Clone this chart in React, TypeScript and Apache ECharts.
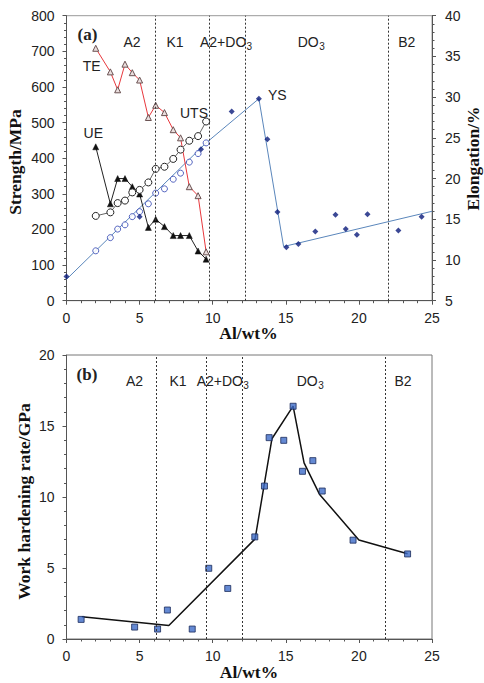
import React, { useEffect, useRef } from "react";
import * as echarts from "echarts";

// ---------- data (a) ----------
const alX = [2, 3, 3.5, 4, 4.5, 5, 5.6, 6.1, 6.7, 7.3, 7.8, 8.4, 9, 9.55];
const teVals = [36.0, 33.1, 30.9, 34.05, 33.0, 32.1, 27.5, 29.0, 28.1, 26.0, 25.0, 19.0, 17.9, 11.0];
const ueVals = [23.9, 16.9, 20.0, 20.0, 19.0, 18.1, 14.0, 15.0, 14.1, 13.0, 13.0, 13.0, 11.1, 10.1];
const utsVals = [238, 248, 274, 281, 304, 311, 332, 370, 376, 398, 424, 449, 462, 503];
const ysOpenVals = [140, 177, 201, 213, 236, 250, 272, 302, 314, 341, 358, 389, 413, 443];
const ysFilled: [number, number][] = [
  [0, 68], [5.0, 236], [9.2, 425], [11.3, 531], [13.16, 567], [13.74, 453],
  [14.43, 249], [15.04, 150], [15.86, 159], [17.02, 194], [18.4, 241],
  [19.1, 201], [19.86, 185], [20.59, 243], [22.7, 197], [24.29, 236],
];
const ysLine: [number, number][] = [[0, 60], [9.55, 443], [13.16, 567], [14.85, 152], [25, 251]];
const phaseBoundsA = [6.05, 9.75, 12.2, 22.0];

// ---------- data (b) ----------
const whPoints: [number, number][] = [
  [1.0, 1.38], [4.66, 0.84], [6.23, 0.7], [6.9, 2.04], [8.6, 0.7], [9.73, 4.98],
  [11.03, 3.56], [12.88, 7.19], [13.54, 10.77], [13.86, 14.18], [14.86, 13.99],
  [15.5, 16.39], [16.14, 11.81], [16.85, 12.56], [17.49, 10.42], [19.6, 6.96], [23.33, 5.99],
];
const whLine: [number, number][] = [
  [1.05, 1.57], [7.0, 0.95], [12.9, 7.05], [14.05, 14.1], [15.5, 16.4],
  [16.25, 12.4], [17.3, 10.2], [20.0, 6.97], [23.33, 6.0],
];
const phaseBoundsB = [6.15, 9.55, 12.05, 21.8];

const SANS = "Liberation Sans, Arial, sans-serif";
const SERIF = "Liberation Serif, Times New Roman, serif";

const zip = (xs: number[], ys: number[]) => xs.map((x, i) => [x, ys[i]]);

export default function App() {
  const ref = useRef<HTMLDivElement>(null);
  useEffect(() => {
    document.body.style.margin = "0";
    if (!ref.current) return;
    const chart = echarts.init(ref.current, undefined, { renderer: "svg" });

    const axisLbl = { color: "#222", fontSize: 14, fontFamily: SANS };
    const axLine = { show: true, lineStyle: { color: "#555", width: 1 } };
    const tick = { show: true, length: 4, lineStyle: { color: "#555" } };
    const minor = { show: true, splitNumber: 5, length: 2.5, lineStyle: { color: "#555" } };

    const dashed = (vals: number[]) => ({
      silent: true,
      symbol: "none",
      label: { show: false },
      lineStyle: { type: [2, 2], color: "#333", width: 1 },
      data: vals.map((v) => ({ xAxis: v })),
    });

    const txt = (text: string, x: number, y: number, extra: any = {}) => ({
      type: "text",
      x,
      y,
      style: {
        text,
        fill: "#222",
        fontSize: 14,
        fontFamily: SANS,
        textAlign: "center",
        textVerticalAlign: "middle",
        ...extra,
      },
    });

    const phaseLabels = (dy: number, xs: any) => [
      txt("A2", xs.a2, 41.5 + dy),
      txt("K1", xs.k1, 41.5 + dy),
      txt("A2+DO", xs.mix, 41.5 + dy, { textAlign: "left" }),
      txt("3", xs.mix + 46.5, 46 + dy, { textAlign: "left", fontSize: 10 }),
      txt("DO", xs.do3, 41.5 + dy, { textAlign: "left" }),
      txt("3", xs.do3 + 21.5, 46 + dy, { textAlign: "left", fontSize: 10 }),
      txt("B2", xs.b2, 41.5 + dy),
    ];

    const nameStyle = { fontSize: 17.5, fontFamily: SERIF, fontWeight: "bold", fill: "#111" };

    chart.setOption({
      animation: false,
      grid: [
        { left: 66.5, top: 15.7, width: 365.5, height: 285, show: true, borderColor: "#999", borderWidth: 1 },
        { left: 66.5, top: 355, width: 365.5, height: 284, show: true, borderColor: "#777", borderWidth: 1 },
      ],
      xAxis: [
        {
          gridIndex: 0, type: "value", min: 0, max: 25, interval: 5,
          axisLine: axLine, axisTick: tick, minorTick: minor, splitLine: { show: false },
          axisLabel: { ...axisLbl, margin: 10 },
        },
        {
          gridIndex: 1, type: "value", min: 0, max: 25, interval: 5,
          axisLine: axLine, axisTick: tick, minorTick: minor, splitLine: { show: false },
          axisLabel: { ...axisLbl, margin: 10 },
        },
      ],
      yAxis: [
        {
          gridIndex: 0, type: "value", min: 0, max: 800, interval: 100,
          axisLine: axLine, axisTick: tick, minorTick: minor, splitLine: { show: false },
          axisLabel: { ...axisLbl, margin: 12 },
        },
        {
          gridIndex: 0, type: "value", position: "right", min: 5, max: 40, interval: 5,
          axisLine: axLine, axisTick: tick, minorTick: minor, splitLine: { show: false },
          axisLabel: { ...axisLbl, margin: 13 },
        },
        {
          gridIndex: 1, type: "value", min: 0, max: 20, interval: 5,
          axisLine: axLine, axisTick: tick, minorTick: minor, splitLine: { show: false },
          axisLabel: { ...axisLbl, margin: 12 },
        },
      ],
      series: [
        {
          type: "line", xAxisIndex: 0, yAxisIndex: 0, data: ysLine, showSymbol: false,
          lineStyle: { color: "#5a86bb", width: 1 }, z: 2, markLine: dashed(phaseBoundsA),
        },
        {
          type: "line", xAxisIndex: 0, yAxisIndex: 1, data: zip(alX, teVals),
          symbol: "triangle", symbolSize: 6,
          lineStyle: { color: "#e8383d", width: 1 },
          itemStyle: { color: "#eadede", borderColor: "#6b5252", borderWidth: 1 }, z: 3,
        },
        {
          type: "line", xAxisIndex: 0, yAxisIndex: 1, data: zip(alX, ueVals),
          symbol: "triangle", symbolSize: 6,
          lineStyle: { color: "#222", width: 1 },
          itemStyle: { color: "#111", borderColor: "#111", borderWidth: 0.5 }, z: 3,
        },
        {
          type: "line", xAxisIndex: 0, yAxisIndex: 0, data: zip(alX, utsVals),
          symbol: "circle", symbolSize: 7,
          lineStyle: { color: "#666", width: 1 },
          itemStyle: { color: "#fff", borderColor: "#222", borderWidth: 1 }, z: 3,
        },
        {
          type: "scatter", xAxisIndex: 0, yAxisIndex: 0, data: zip(alX, ysOpenVals),
          symbol: "circle", symbolSize: 6,
          itemStyle: { color: "#fff", borderColor: "#2a3fb0", borderWidth: 1 }, z: 4,
        },
        {
          type: "scatter", xAxisIndex: 0, yAxisIndex: 0, data: ysFilled,
          symbol: "diamond", symbolSize: 6,
          itemStyle: { color: "#0a1a7a" }, z: 4,
        },
        {
          type: "line", xAxisIndex: 1, yAxisIndex: 2, data: whLine, showSymbol: false,
          lineStyle: { color: "#111", width: 1.5 }, z: 2, markLine: dashed(phaseBoundsB),
        },
        {
          type: "scatter", xAxisIndex: 1, yAxisIndex: 2, data: whPoints,
          symbol: "rect", symbolSize: 6,
          itemStyle: { color: "#3d6bc8", borderColor: "#1a2a5a", borderWidth: 1 }, z: 4,
        },
      ],
      graphic: [
        txt("(a)", 87.5, 34.5, { fontFamily: SERIF, fontWeight: "bold", fontSize: 17 }),
        ...phaseLabels(0, { a2: 132, k1: 175, mix: 200, do3: 297.7, b2: 406.7 }),
        txt("TE", 91.7, 65.7),
        txt("UE", 93.3, 133.3),
        txt("UTS", 194, 113.3),
        txt("YS", 277.3, 94.7),
        txt("(b)", 87, 374, { fontFamily: SERIF, fontWeight: "bold", fontSize: 17 }),
        ...phaseLabels(339.5, { a2: 134.5, k1: 178, mix: 196.7, do3: 296.7, b2: 403 }),
        { type: "text", x: 15, y: 162, rotation: Math.PI / 2,
          style: { text: "Strength/MPa", textAlign: "center", textVerticalAlign: "middle", ...nameStyle } },
        { type: "text", x: 473, y: 158.5, rotation: Math.PI / 2,
          style: { text: "Elongation/%", textAlign: "center", textVerticalAlign: "middle", ...nameStyle } },
        { type: "text", x: 248.5, y: 333,
          style: { text: "Al/wt%", textAlign: "center", textVerticalAlign: "middle", ...nameStyle } },
        { type: "text", x: 23.5, y: 501.5, rotation: Math.PI / 2,
          style: { text: "Work hardening rate/GPa", textAlign: "center", textVerticalAlign: "middle", ...nameStyle } },
        { type: "text", x: 249, y: 671.5,
          style: { text: "Al/wt%", textAlign: "center", textVerticalAlign: "middle", ...nameStyle } },
      ],
    });
    return () => chart.dispose();
  }, []);
  return <div ref={ref} style={{ width: 484, height: 683 }} />;
}
